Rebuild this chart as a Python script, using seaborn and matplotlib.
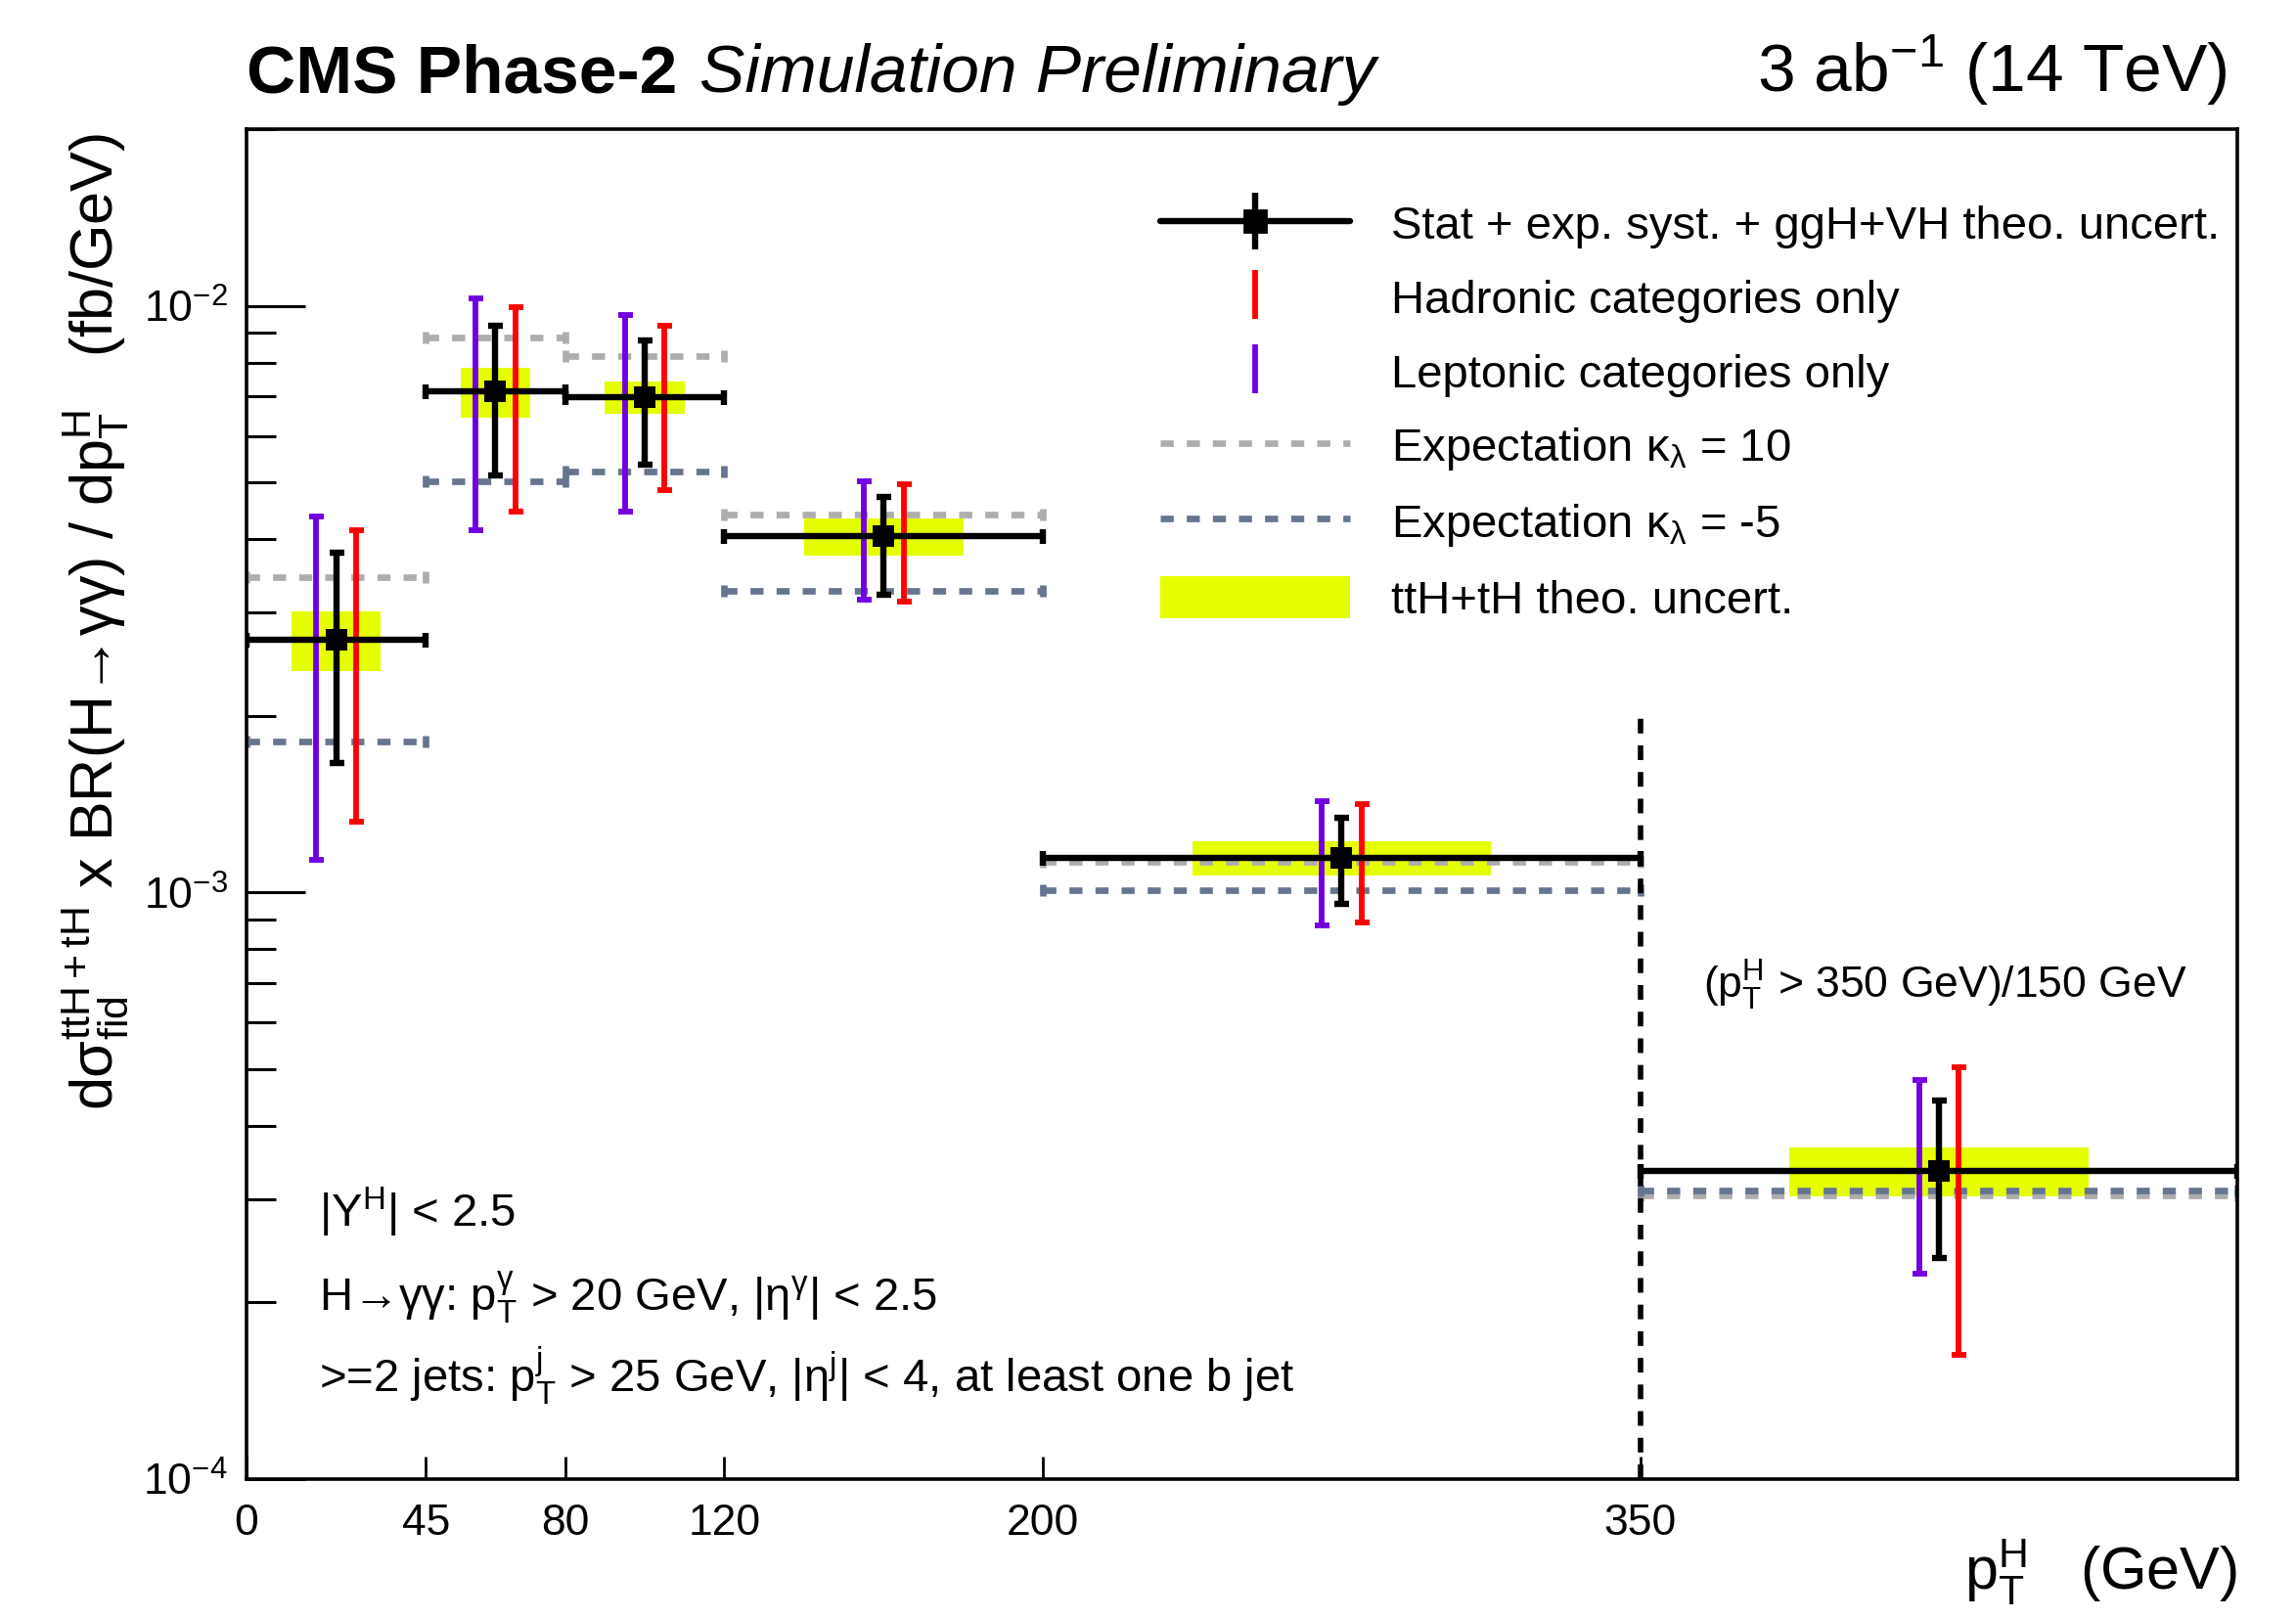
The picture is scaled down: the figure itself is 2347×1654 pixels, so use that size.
import numpy as np
import matplotlib
matplotlib.use("Agg")
import matplotlib.pyplot as plt
import seaborn as sns
from matplotlib.lines import Line2D
from matplotlib.patches import Patch
from matplotlib.legend_handler import HandlerTuple
from matplotlib.ticker import FixedLocator, LogLocator, NullFormatter

# ---------------- data ----------------
bin_edges = [0, 45, 80, 120, 200, 350, 500]
tick_values = [0, 45, 80, 120, 200, 350]

# measured differential cross section (fb/GeV)
xsec = [2.69e-3, 7.15e-3, 6.99e-3, 4.05e-3, 1.145e-3, 3.35e-4]
# stat + exp. syst. + ggH+VH theo. uncertainty band (lower / upper edge)
comb_lo = [1.66e-3, 5.14e-3, 5.35e-3, 3.22e-3, 9.57e-4, 2.38e-4]
comb_hi = [3.80e-3, 9.24e-3, 8.71e-3, 4.73e-3, 1.34e-3, 4.42e-4]
# hadronic categories only
had_lo = [1.32e-3, 4.46e-3, 4.85e-3, 3.13e-3, 8.87e-4, 1.63e-4]
had_hi = [4.15e-3, 9.94e-3, 9.23e-3, 4.97e-3, 1.414e-3, 5.03e-4]
# leptonic categories only
lep_lo = [1.135e-3, 4.15e-3, 4.46e-3, 3.15e-3, 8.78e-4, 2.24e-4]
lep_hi = [4.38e-3, 1.029e-2, 9.66e-3, 5.02e-3, 1.43e-3, 4.78e-4]
# ttH+tH theory uncertainty
theo_lo = [2.38e-3, 6.45e-3, 6.55e-3, 3.75e-3, 1.067e-3, 3.03e-4]
theo_hi = [3.01e-3, 7.84e-3, 7.43e-3, 4.34e-3, 1.224e-3, 3.67e-4]
# expectations for anomalous trilinear coupling
exp_kl10 = [3.44e-3, 8.83e-3, 8.21e-3, 4.40e-3, 1.126e-3, 3.04e-4]
exp_klm5 = [1.81e-3, 5.02e-3, 5.21e-3, 3.27e-3, 1.009e-3, 3.10e-4]
# overflow separator height
overflow_top = 2.0e-3

# ---------------- style ----------------
sns.set_theme(style="ticks")
plt.rcParams["font.family"] = ["Liberation Sans", "DejaVu Sans"]
plt.rcParams["mathtext.fontset"] = "custom"
plt.rcParams["mathtext.rm"] = "Liberation Sans"
plt.rcParams["mathtext.it"] = "Liberation Sans:italic"
plt.rcParams["mathtext.bf"] = "Liberation Sans:bold"
plt.rcParams["mathtext.sf"] = "Liberation Sans"
plt.rcParams["text.color"] = "black"
plt.rcParams["axes.labelcolor"] = "black"
plt.rcParams["xtick.color"] = "black"
plt.rcParams["ytick.color"] = "black"

c_black = "#000000"
c_red = "#ff0000"
c_purple = "#7000e0"
c_yellow = "#e6ff00"
c_gray = "#adadad"
c_blue = "#66758f"

edges = np.array(bin_edges, dtype=float)
centers = 0.5 * (edges[:-1] + edges[1:])
halfw = 0.5 * (edges[1:] - edges[:-1])
y = np.array(xsec)

fig = plt.figure(figsize=(2347 / 200, 1654 / 200), dpi=200)
ax = fig.add_axes([0.1074, 0.0859, 0.8671, 0.8343])
ax.set_xscale("linear")
ax.set_yscale("log")
ax.set_xlim(0, 500)
ax.set_ylim(1e-4, 2e-2)

# theory uncertainty boxes (half bin width)
ax.bar(centers, np.array(theo_hi) - np.array(theo_lo), bottom=theo_lo,
       width=halfw, color=c_yellow, linewidth=0, zorder=1)

# expectation lines per bin
for vals, col in [(exp_kl10, c_gray), (exp_klm5, c_blue)]:
    eb = ax.errorbar(centers, vals, xerr=halfw, fmt="none", ecolor=col,
                     elinewidth=2.4, capsize=2.2, capthick=2.4, zorder=2)
    eb.lines[2][0].set_linestyle((0, (2.0, 2.0)))

# overflow separator
ax.vlines(edges[-2], 1e-4, overflow_top, colors=c_black, linewidth=2.0,
          linestyles=[(0, (2.7, 2.2))], zorder=3)

# category-only uncertainties
off = 5.0
ax.errorbar(centers - off, y, yerr=[y - np.array(lep_lo), np.array(lep_hi) - y],
            fmt="none", ecolor=c_purple, elinewidth=2.1, capsize=2.7,
            capthick=2.1, zorder=4)
ax.errorbar(centers + off, y, yerr=[y - np.array(had_lo), np.array(had_hi) - y],
            fmt="none", ecolor=c_red, elinewidth=2.1, capsize=2.7,
            capthick=2.1, zorder=4)

# combined result
ax.errorbar(centers, y, xerr=halfw,
            yerr=[y - np.array(comb_lo), np.array(comb_hi) - y],
            fmt="none", ecolor=c_black, elinewidth=2.3, capsize=2.7,
            capthick=2.3, zorder=5)
sns.scatterplot(x=centers, y=y, marker="s", color=c_black, s=64,
                linewidth=0, ax=ax, zorder=6, legend=False)

# ---------------- axes ----------------
for sp in ax.spines.values():
    sp.set_linewidth(1.3)
    sp.set_color("black")
ax.xaxis.set_major_locator(FixedLocator(tick_values))
ax.set_xticklabels([str(v) for v in tick_values])
ax.xaxis.set_minor_locator(FixedLocator([]))
ax.yaxis.set_major_locator(LogLocator(base=10, numticks=10))
ax.yaxis.set_minor_locator(LogLocator(base=10, subs=np.arange(2, 10), numticks=20))
ax.yaxis.set_minor_formatter(NullFormatter())
ax.tick_params(axis="x", which="major", direction="in", length=8.3, width=1.0,
               labelsize=16, pad=9, top=False, bottom=True, colors="black")
ax.tick_params(axis="y", which="major", direction="in", length=21.6, width=1.1,
               labelsize=16, pad=7, right=False, left=True, colors="black")
ax.tick_params(axis="y", which="minor", direction="in", length=10.8, width=1.1,
               right=False, left=True, colors="black")
ax.grid(False)

ax.text(1.0, -0.043, r"$\mathrm{p}^{\mathrm{H}}_{\mathrm{T}}$   (GeV)",
        transform=ax.transAxes, ha="right", va="top", fontsize=22)
fig.text(0.0413, 0.918,
         r"$\mathrm{dσ}^{\mathrm{ttH+tH}}_{\mathrm{fid}}$ x BR(H→γγ) / d$\mathrm{p}^{\mathrm{H}}_{\mathrm{T}}$   (fb/GeV)",
         rotation=90, ha="center", va="top", fontsize=22)

# header
t1 = ax.text(0.0, 1.0275, "CMS Phase-2", transform=ax.transAxes, fontsize=25,
             fontweight="bold", ha="left", va="baseline")
ax.annotate("Simulation Preliminary", xy=(1, 0), xycoords=t1, xytext=(8, 0),
            textcoords="offset points", fontsize=25, style="italic",
            ha="left", va="bottom")
ax.text(0.995, 1.0275, r"3 ab$^{\mathrm{-1}}$ (14 TeV)", transform=ax.transAxes,
        fontsize=25, ha="right", va="baseline")

# selection text
ax.text(0.0365, 0.1866, r"$|\mathrm{Y}^{\mathrm{H}}|$ < 2.5",
        transform=ax.transAxes, fontsize=17, ha="left", va="baseline")
ax.text(0.0365, 0.1248,
        r"H→γγ: $\mathrm{p}^{\mathrm{γ}}_{\mathrm{T}}$ > 20 GeV, $|\mathrm{η}^{\mathrm{γ}}|$ < 2.5",
        transform=ax.transAxes, fontsize=17, ha="left", va="baseline")
ax.text(0.0365, 0.0641,
        r">=2 jets: $\mathrm{p}^{\mathrm{j}}_{\mathrm{T}}$ > 25 GeV, $|\mathrm{η}^{\mathrm{j}}|$ < 4, at least one b jet",
        transform=ax.transAxes, fontsize=17, ha="left", va="baseline")
ax.text(0.7317, 0.3558, r"($\mathrm{p}^{\mathrm{H}}_{\mathrm{T}}$ > 350 GeV)/150 GeV",
        transform=ax.transAxes, fontsize=16, ha="left", va="baseline")

# ---------------- legend ----------------
h_comb = (Line2D([], [], color=c_black, lw=2.3),
          Line2D([], [], color=c_black, marker="|", ms=21, mew=2.3, ls="none"),
          Line2D([], [], color=c_black, marker="s", ms=8, ls="none"))
h_had = Line2D([], [], color=c_red, marker="|", ms=18, mew=2.1, ls="none")
h_lep = Line2D([], [], color=c_purple, marker="|", ms=18, mew=2.1, ls="none")
h_k10 = Line2D([], [], color=c_gray, lw=2.4, ls=(0, (2.0, 2.0)))
h_km5 = Line2D([], [], color=c_blue, lw=2.4, ls=(0, (2.0, 2.0)))
h_theo = Patch(facecolor=c_yellow, edgecolor="none")
labels = ["Stat + exp. syst. + ggH+VH theo. uncert.",
          "Hadronic categories only",
          "Leptonic categories only",
          r"Expectation $\mathrm{κ}_{\mathrm{λ}}$ = 10",
          r"Expectation $\mathrm{κ}_{\mathrm{λ}}$ = -5",
          "ttH+tH theo. uncert."]
ax.legend([h_comb, h_had, h_lep, h_k10, h_km5, h_theo], labels,
          loc="upper left", bbox_to_anchor=(0.4587, 0.9456), frameon=False,
          fontsize=17, handlelength=4.12, handletextpad=0.89,
          labelspacing=0.6, borderpad=0, borderaxespad=0, handleheight=1.0,
          handler_map={tuple: HandlerTuple(ndivide=1, pad=0)})

fig.savefig("out.png", dpi=200, facecolor="white")
